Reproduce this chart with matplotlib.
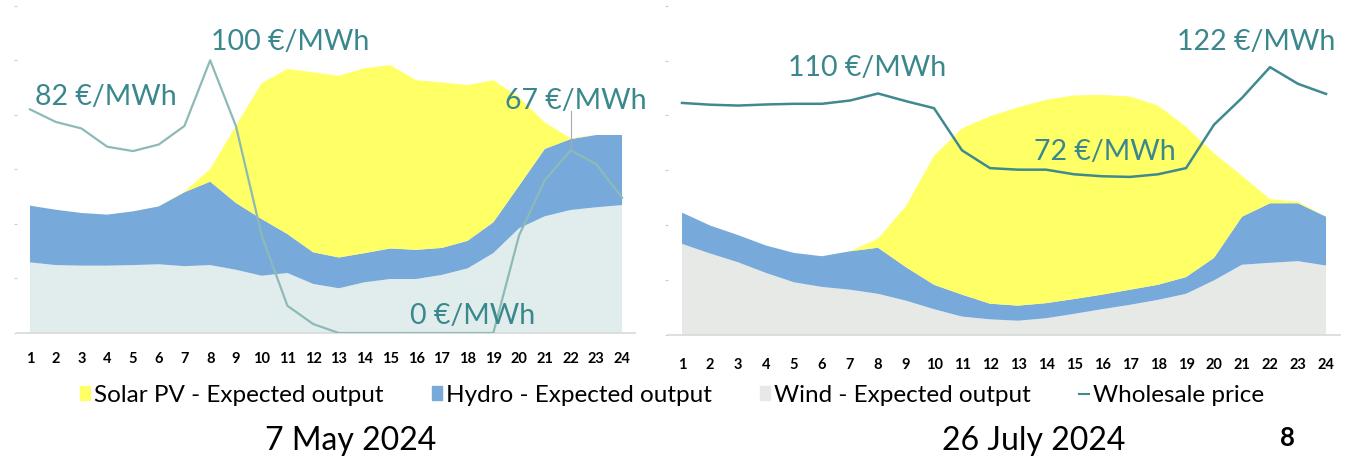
import matplotlib
matplotlib.use("Agg")
import matplotlib.pyplot as plt
from matplotlib.patches import Patch
from matplotlib.lines import Line2D

plt.rcParams['font.family'] = ['Lato', 'DejaVu Sans']

# data (hour 1..24), generation in GW, price in EUR/MWh
hours = list(range(1, 25))

may_wind = [2.59, 2.49, 2.47, 2.47, 2.49, 2.52, 2.45, 2.49, 2.32, 2.10, 2.20, 1.80,
            1.64, 1.86, 1.98, 1.98, 2.13, 2.37, 2.93, 3.84, 4.28, 4.51, 4.61, 4.69]
may_hydro = [2.08, 2.03, 1.93, 1.87, 1.97, 2.12, 2.71, 3.06, 2.45, 2.08, 1.43, 1.16,
             1.13, 1.07, 1.12, 1.07, 0.99, 1.01, 1.13, 1.56, 2.47, 2.60, 2.65, 2.57]
may_solar = [0, 0, 0, 0, 0, 0, 0.02, 0.46, 2.83, 4.98, 6.05, 6.60,
             6.66, 6.78, 6.72, 6.22, 6.07, 5.71, 5.21, 3.24, 0.97, 0.03, 0, 0]
may_price = [82, 77.4, 75, 68.3, 66.7, 69.1, 75.9, 100, 75.9, 35.8, 10, 3.3,
             0, 0, 0, 0, 0, 0, 0, 35.8, 56, 67, 61.9, 49.6]

jul_wind = [3.32, 2.97, 2.65, 2.26, 1.92, 1.75, 1.65, 1.50, 1.25, 0.94, 0.67, 0.57,
            0.52, 0.61, 0.77, 0.94, 1.10, 1.28, 1.50, 1.99, 2.56, 2.63, 2.69, 2.53]
jul_hydro = [1.14, 1.02, 0.99, 1.00, 1.07, 1.12, 1.40, 1.68, 1.22, 0.89, 0.80, 0.57,
             0.55, 0.55, 0.54, 0.53, 0.55, 0.55, 0.61, 0.82, 1.75, 2.17, 2.11, 1.78]
jul_solar = [0, 0, 0, 0, 0, 0, 0, 0.33, 2.23, 4.70, 6.06, 6.83,
             7.23, 7.41, 7.42, 7.28, 7.04, 6.53, 5.48, 3.81, 1.49, 0.15, 0.06, 0]
jul_price = [105.7, 104.9, 104.5, 105, 105.3, 105.3, 106.8, 110, 106.5, 103.3, 84.1, 76,
             75.3, 75.3, 73.2, 72.3, 72, 73.2, 76, 95.8, 108, 122, 114.4, 109.8]

# colours
c_solar = '#ffff66'
c_hydro = '#77aadb'
c_text = '#3a888d'

fig = plt.figure(figsize=(13.65, 4.6), dpi=100)

def panel(rect, wind, hydro, solar, price, pmax, wind_col, line_col, lw, pad, notes):
    ax = fig.add_axes(rect)
    ax.stackplot(hours, wind, hydro, solar, colors=[wind_col, c_hydro, c_solar], linewidth=0)
    ax.set_xlim(0.5, 24.5)
    ax.set_ylim(0, 12)
    ax.set_xticks(hours)
    ax.set_xticklabels([str(h) for h in hours], fontsize=10.5, fontweight='bold')
    ax.tick_params(axis='x', length=0, pad=pad)
    ax.set_yticks([0, 2, 4, 6, 8, 10, 12])
    ax.tick_params(axis='y', length=2, width=0.8, color='#cccccc', labelleft=False)
    for s in ['top', 'right', 'left']:
        ax.spines[s].set_visible(False)
    ax.spines['bottom'].set_color('#d9d9d9')
    ax.spines['bottom'].set_linewidth(1.2)
    ax.set_facecolor('none')

    ax2 = ax.twinx()
    ax2.set_ylim(0, pmax)
    ax2.plot(hours, price, color=line_col, lw=lw)
    ax2.axis('off')
    for txt, x, y in notes:
        ax2.text(x, y, txt, color=c_text, fontsize=20.5, ha='center', va='center')
    return ax, ax2

ax, ax2 = panel([0.01253, 0.2739, 0.4526, 0.7115], may_wind, may_hydro, may_solar, may_price,
                120, '#e1eded', '#8dbab7', 1.6, 13,
                [('82 €/MWh', 3.95, 86.9), ('100 €/MWh', 11.1, 107),
                 ('67 €/MWh', 22.2, 85.4), ('0 €/MWh', 18.2, 6.6)])
# leader line from the 67 label
ax2.plot([22, 22], [81.4, 67], color='#aaaaaa', lw=0.8)

panel([0.4894, 0.2696, 0.4923, 0.7159], jul_wind, jul_hydro, jul_solar, jul_price,
      150, '#e6e9e6', '#3f8a8f', 1.8, 16,
      [('110 €/MWh', 7.6, 122), ('122 €/MWh', 21.5, 134), ('72 €/MWh', 16.1, 83.8)])

handles = [Patch(color=c_solar), Patch(color=c_hydro), Patch(color='#e6e9e6'),
           Line2D([], [], color='#3f8a8f', lw=1.5)]
labels = ['Solar PV - Expected output', 'Hydro - Expected output',
          'Wind - Expected output', 'Wholesale price']
fig.legend(handles, labels, loc='center', bbox_to_anchor=(672 / 1365, 1 - 396 / 460),
           ncol=4, frameon=False, fontsize=17.5, handlelength=0.42, handleheight=0.5,
           handletextpad=0.15, columnspacing=2.0)

fig.text(351 / 1365, 1 - 441 / 460, '7 May 2024', fontsize=23, ha='center', va='center')
fig.text(1034 / 1365, 1 - 441 / 460, '26 July 2024', fontsize=23, ha='center', va='center')
fig.text(1287 / 1365, 1 - 438 / 460, '8', fontsize=18.5, fontweight='bold', ha='center', va='center')

fig.savefig('out.png', dpi=100)
